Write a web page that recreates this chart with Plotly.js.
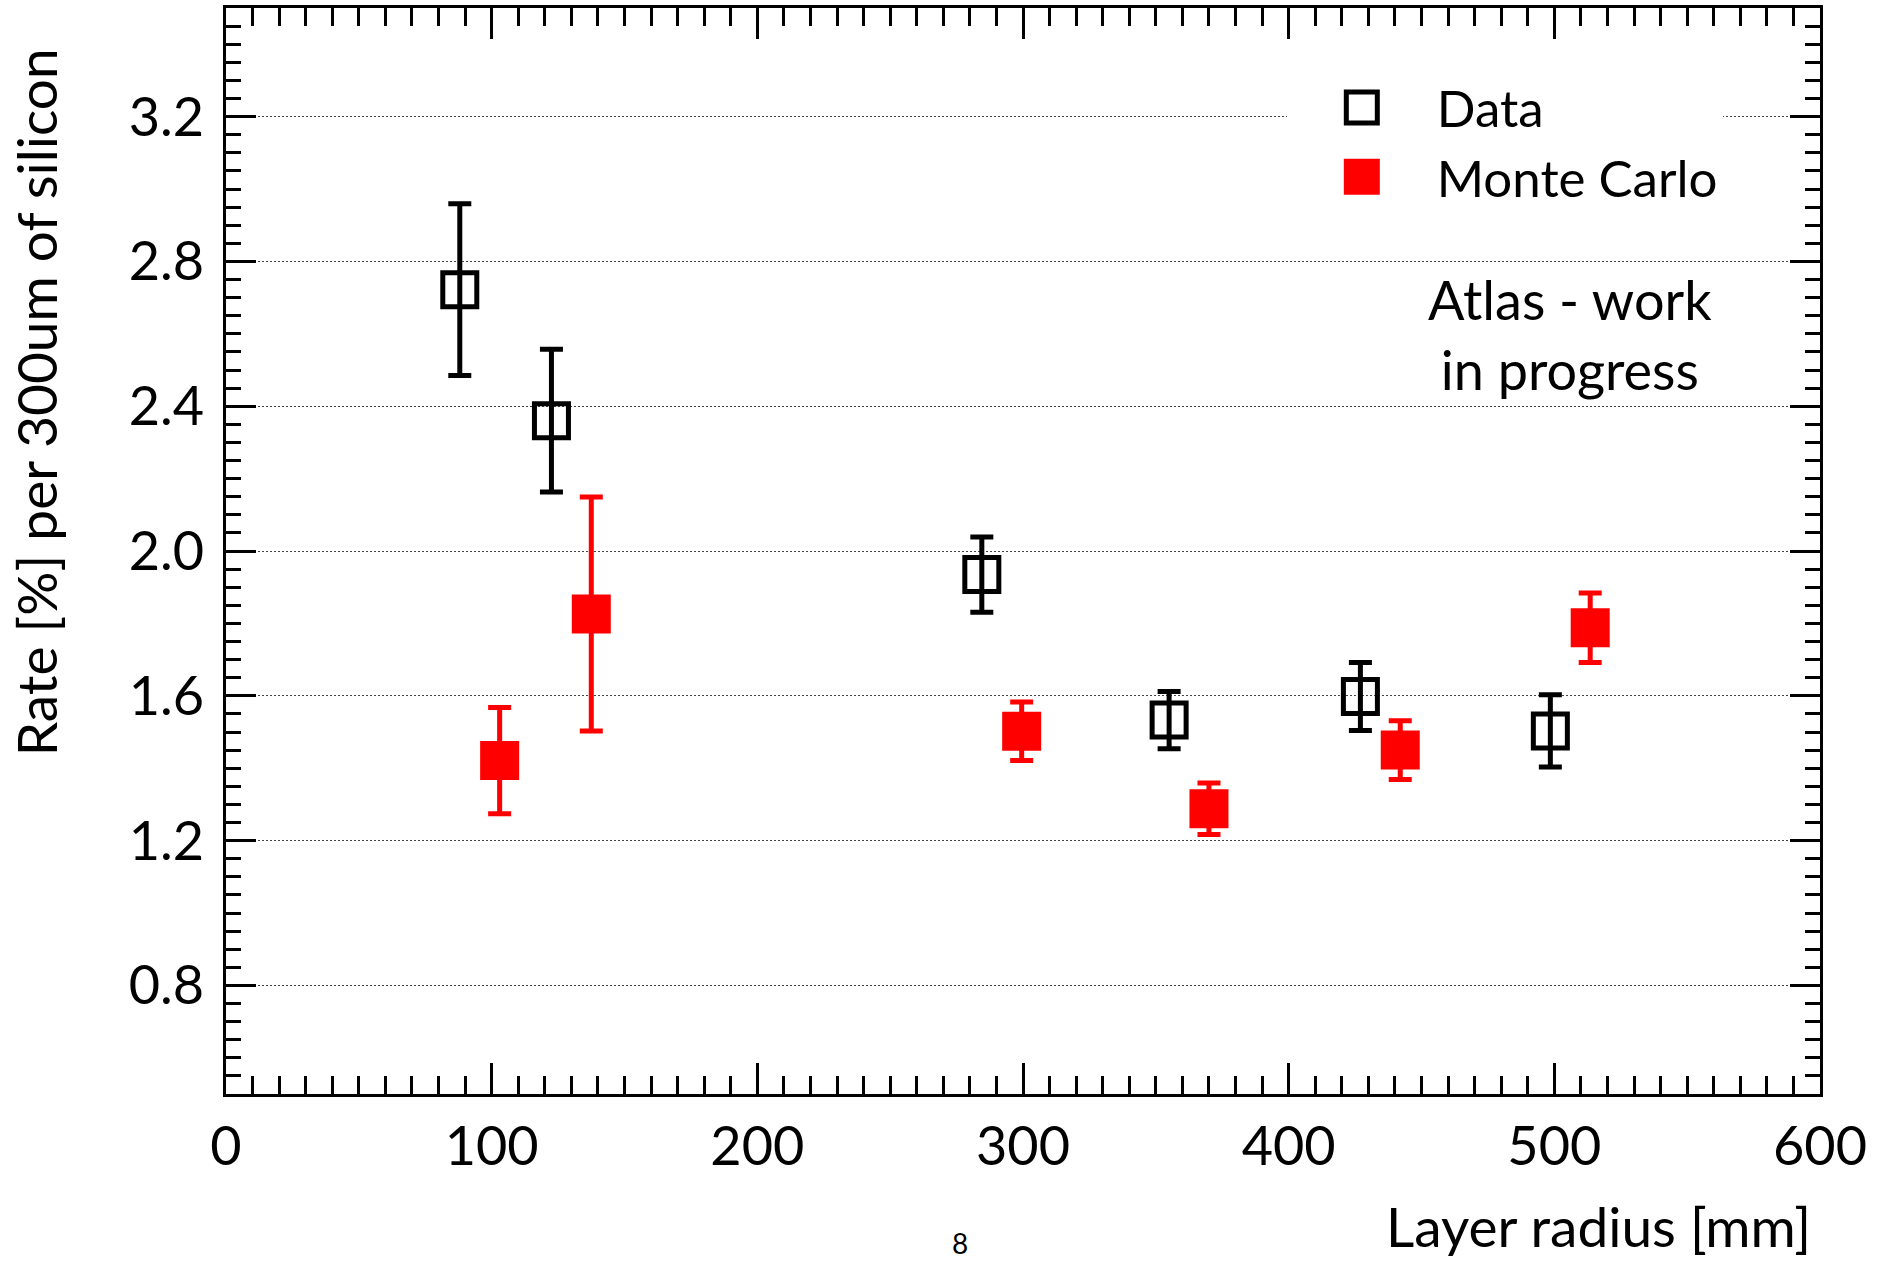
<!DOCTYPE html>
<html>
<head>
<meta charset="utf-8">
<script src="https://cdn.plot.ly/plotly-3.0.1.min.js"></script>
<style>html,body{margin:0;padding:0;background:#fff;}#chart{width:1892px;height:1262px;}</style>
</head>
<body>
<div id="chart"></div>
<script>
// Layer radius [mm]
const dataRadius = [88, 122.5, 284.5, 355, 427, 498.5];
const dataRate = [2.722, 2.36, 1.935, 1.533, 1.598, 1.503];
const dataErr = [0.237, 0.197, 0.104, 0.079, 0.094, 0.100];

const mcRadius = [103, 137.5, 299.5, 370, 442, 513.5];
const mcRate = [1.421, 1.826, 1.502, 1.288, 1.450, 1.788];
const mcErr = [0.147, 0.323, 0.081, 0.071, 0.081, 0.096];

const xMediumTicks = [50, 150, 250, 350, 450, 550];
const seriesNames = ['Data', 'Monte Carlo'];

const FONT = 'Lato, "Open Sans", sans-serif';

const traces = [
  {
    type: 'scatter', mode: 'markers', name: seriesNames[0],
    x: dataRadius, y: dataRate,
    error_y: {type: 'data', array: dataErr, visible: true, color: '#000', thickness: 5, width: 11.5},
    marker: {symbol: 'square-open', size: 34, color: '#000', line: {width: 5, color: '#000'}},
    xaxis: 'x', yaxis: 'y'
  },
  {
    type: 'scatter', mode: 'markers', name: seriesNames[1],
    x: mcRadius, y: mcRate,
    error_y: {type: 'data', array: mcErr, visible: true, color: '#ff0000', thickness: 5, width: 11.5},
    marker: {symbol: 'square', size: 39, color: '#ff0000', line: {width: 0}},
    xaxis: 'x', yaxis: 'y'
  }
];

const layout = {
  width: 1892, height: 1262,
  margin: {l: 226, r: 72, t: 8, b: 168, pad: 0},
  paper_bgcolor: '#fff', plot_bgcolor: '#fff',
  font: {family: FONT, color: '#000', size: 48},
  showlegend: true,
  legend: {
    x: 0.6655, y: 0.945, xanchor: 'left', yanchor: 'top',
    bgcolor: '#fff', borderwidth: 0,
    font: {family: FONT, size: 51, color: '#000'},
    itemwidth: 140, tracegroupgap: 0
  },
  xaxis: {
    range: [0, 600], autorange: false,
    tickmode: 'linear', tick0: 0, dtick: 100,
    ticks: 'inside', ticklen: 31, tickwidth: 3, tickcolor: '#000',
    minor: {dtick: 10, tick0: 0, ticks: 'inside', ticklen: 18, tickwidth: 3, tickcolor: '#000', showgrid: false},
    showline: true, linewidth: 3, linecolor: '#000', mirror: 'allticks',
    showgrid: false, zeroline: false,
    tickfont: {family: FONT, size: 54, color: '#000'},
    ticklabelstandoff: 3
  },
  xaxis2: {
    overlaying: 'x', anchor: 'y', side: 'bottom',
    range: [0, 600], autorange: false,
    tickmode: 'array', tickvals: xMediumTicks,
    ticks: 'inside', ticklen: 24, tickwidth: 3, tickcolor: '#000',
    showticklabels: false, showline: false, showgrid: false, zeroline: false,
    mirror: 'allticks'
  },
  yaxis: {
    range: [0.5, 3.5], autorange: false,
    tickmode: 'linear', tick0: 0.4, dtick: 0.4, tickformat: '.1f',
    ticks: 'inside', ticklen: 30, tickwidth: 3, tickcolor: '#000',
    minor: {dtick: 0.05, tick0: 0.5, ticks: 'inside', ticklen: 15, tickwidth: 3, tickcolor: '#000', showgrid: false},
    showline: true, linewidth: 3, linecolor: '#000', mirror: 'allticks',
    showgrid: true, gridcolor: '#444', gridwidth: 1, griddash: '2px,2px',
    zeroline: false,
    tickfont: {family: FONT, size: 54, color: '#000'},
    ticklabelstandoff: 8
  },
  annotations: [
    {text: 'Rate [%] per 300um of silicon', xref: 'paper', yref: 'paper', x: -0.1192, y: 0.637,
     xanchor: 'center', yanchor: 'middle', textangle: -90, showarrow: false,
     font: {family: FONT, size: 55, color: '#000'}},
    {text: 'Layer radius [mm]', xref: 'paper', yref: 'paper', x: 0.9955, y: -0.1542,
     xanchor: 'right', yanchor: 'bottom', showarrow: false,
     font: {family: FONT, size: 55, color: '#000'}},
    {text: 'Atlas - work<br>in progress', xref: 'paper', yref: 'paper', x: 0.843, y: 0.699,
     xanchor: 'center', yanchor: 'middle', align: 'center', showarrow: false,
     font: {family: FONT, size: 54, color: '#000'}},
    {text: '8', xref: 'paper', yref: 'paper', x: 0.4605, y: -0.1547,
     xanchor: 'center', yanchor: 'bottom', showarrow: false,
     font: {family: FONT, size: 28, color: '#000'}}
  ]
};

Plotly.newPlot('chart', traces, layout, {displayModeBar: false, staticPlot: true}).then(function (gd) {
  // enlarge legend symbols to match the reference markers
  const groups = gd.querySelectorAll('.legend .traces');
  groups.forEach(function (g, i) {
    const p = g.querySelector('.legendpoints path.scatterpts');
    if (!p) return;
    if (i === 0) {
      p.setAttribute('d', 'M15.5,15.5H-15.5V-15.5H15.5Z');
      p.style.strokeWidth = '5px';
    } else {
      p.setAttribute('d', 'M18,18H-18V-18H18Z');
      p.style.strokeWidth = '0px';
    }
  });
});
</script>
</body>
</html>
